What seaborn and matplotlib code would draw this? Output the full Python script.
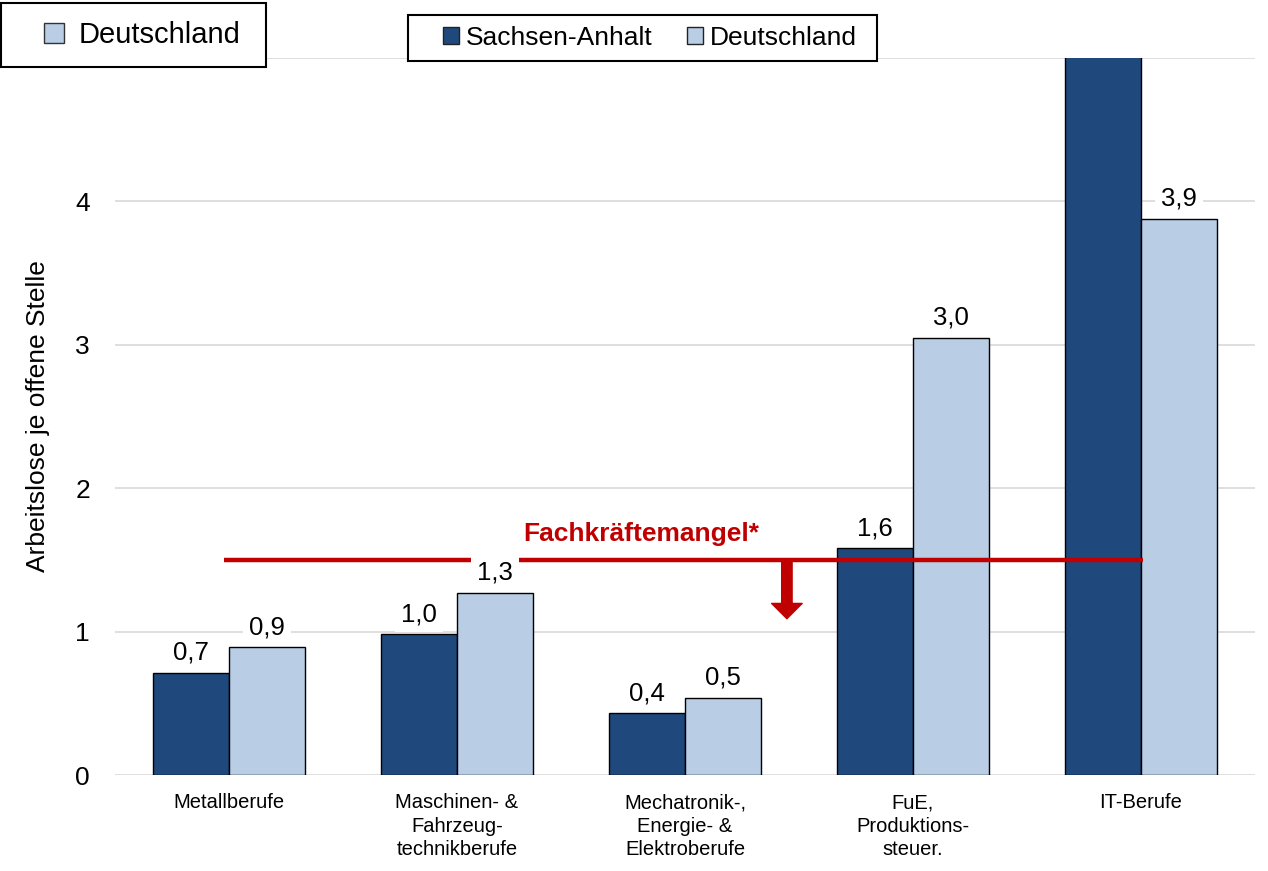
import pandas as pd
import matplotlib.pyplot as plt
import seaborn as sns
from matplotlib.patches import Patch, Rectangle

# Data
berufe = [
    "Metallberufe",
    "Maschinen- &\nFahrzeug-\ntechnikberufe",
    "Mechatronik-,\nEnergie- &\nElektroberufe",
    "FuE,\nProduktions-\nsteuer.",
    "IT-Berufe",
]
sachsen_anhalt = [0.71, 0.98, 0.43, 1.58, 5.6]   # IT value runs past the axis top
deutschland = [0.89, 1.27, 0.54, 3.05, 3.88]
regionen = ["Sachsen-Anhalt", "Deutschland"]
farben = ["#1F497D", "#B9CDE5"]
schwelle = 1.5
y_max = 5

df = pd.DataFrame({
    "Beruf": berufe * 2,
    "Region": [regionen[0]] * len(berufe) + [regionen[1]] * len(berufe),
    "Wert": sachsen_anhalt + deutschland,
})

sns.set_style("white")
plt.rcParams["font.family"] = ["Liberation Sans", "DejaVu Sans"]
plt.rcParams["text.color"] = "black"
plt.rcParams["xtick.color"] = "black"
plt.rcParams["ytick.color"] = "black"
plt.rcParams["axes.labelcolor"] = "black"

fig = plt.figure(figsize=(12.68, 8.71), dpi=100)
ax = fig.add_axes([0.0907, 0.1102, 0.899, 0.8232])

sns.barplot(data=df, x="Beruf", y="Wert", hue="Region", hue_order=regionen,
            palette=farben, saturation=1, edgecolor="black", linewidth=1,
            width=0.667, legend=False, ax=ax)

ax.set_ylim(0, y_max)
ax.set_xlim(-0.5, len(berufe) - 0.5)
ax.set_yticks(range(0, y_max + 1))
ax.set_yticklabels(["0", "1", "2", "3", "4", ""])
ax.grid(axis="y", color="#D9D9D9", linewidth=1.2)
ax.set_axisbelow(True)
for s in ax.spines.values():
    s.set_visible(False)
ax.tick_params(axis="y", length=0, pad=18, labelsize=19)
ax.tick_params(axis="x", length=0, pad=13, labelsize=14.5)
for lbl in ax.get_xticklabels():
    lbl.set_linespacing(1.3)
ax.set_xlabel("")
ax.set_ylabel("Arbeitslose je offene Stelle", fontsize=19)
ax.yaxis.set_label_coords(-0.057, 0.5)

# Threshold line + arrow
ax.hlines(schwelle, -0.02, 4.01, color="#C00000", linewidth=3.2, zorder=4)
ax.text(1.807, schwelle + 0.18, "Fachkräftemangel*", color="#C00000",
        fontsize=19, fontweight="bold", ha="center", va="center", zorder=5)
ax.annotate("", xy=(2.447, 1.09), xytext=(2.447, schwelle),
            arrowprops=dict(arrowstyle="simple,head_length=1.1,head_width=2.2,tail_width=0.75",
                            mutation_scale=10, color="#C00000",
                            shrinkA=0, shrinkB=0), zorder=4)

# Value labels
for cont in ax.containers:
    vals = [b.get_height() for b in cont]
    labels = [f"{v:.1f}".replace(".", ",") if v <= y_max else "" for v in vals]
    ax.bar_label(cont, labels=labels, padding=6, fontsize=18.5, zorder=6,
                 bbox=dict(facecolor="white", edgecolor="none", pad=4))

# Legend boxes (frames drawn separately so the padding can match)
fig.add_artist(Rectangle((0.001, 0.9231), 0.2090, 0.0735, transform=fig.transFigure,
                         facecolor="white", edgecolor="black", linewidth=1.5, zorder=4))
fig.add_artist(Rectangle((0.3218, 0.9300), 0.3699, 0.0528, transform=fig.transFigure,
                         facecolor="white", edgecolor="black", linewidth=1.5, zorder=4))

fig.legend(handles=[Patch(facecolor=farben[1], edgecolor="#333333")],
           labels=[regionen[1]], loc="center left",
           bbox_to_anchor=(0.0347, 0.9598), fontsize=21,
           handlelength=0.7, handleheight=0.7, handletextpad=0.5,
           borderpad=0, borderaxespad=0, frameon=False)

fig.legend(handles=[Patch(facecolor=c, edgecolor="#222222") for c in farben],
           labels=regionen, loc="center left", ncol=2,
           bbox_to_anchor=(0.3494, 0.9564), fontsize=19,
           handlelength=0.6, handleheight=0.6, handletextpad=0.25,
           columnspacing=1.33, borderpad=0, borderaxespad=0, frameon=False)

plt.savefig("out.png", dpi=100)
plt.close()
